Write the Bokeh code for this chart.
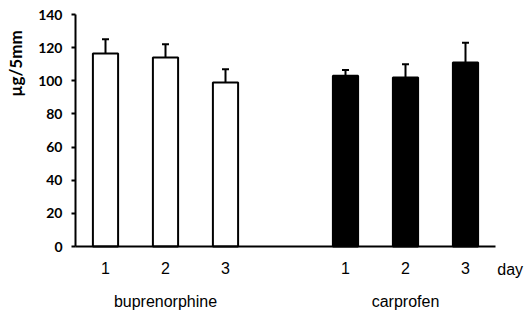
import numpy as np
from bokeh.plotting import figure
from bokeh.models import Range1d, FixedTicker, Whisker, TeeHead, ColumnDataSource, Label
from bokeh.embed import file_html
from bokeh.resources import INLINE

# data
positions = [1, 2, 3, 5, 6, 7]
day_labels = ["1", "2", "3", "1", "2", "3"]
means = [116.5, 114, 99, 103, 102, 111]
errors = [8.5, 8, 8, 3.5, 8, 12]
fills = ["white", "white", "white", "black", "black", "black"]
groups = ["buprenorphine", "carprofen"]
group_centers = [2, 6]
y_ticks = [0, 20, 40, 60, 80, 100, 120, 140]

upper = [m + e for m, e in zip(means, errors)]
src = ColumnDataSource(dict(x=positions, top=means, upper=upper, fill=fills))

W, H = 528, 317
# frame spans the whole canvas; axes are drawn at fixed locations inside it
px_per_x = 60.0
px_per_y = 232.0 / 140.0
x0_px, y0_px = 45.0, 246.0
xr = Range1d((0 - x0_px) / px_per_x, (W - x0_px) / px_per_x)
yr = Range1d((y0_px - H) / px_per_y, (y0_px - 0) / px_per_y)

p = figure(width=W, height=H, output_backend="svg", toolbar_location=None,
           x_range=xr, y_range=yr,
           min_border_left=0, min_border_right=0, min_border_top=0, min_border_bottom=0)
p.outline_line_color = None
p.xgrid.visible = False
p.ygrid.visible = False
p.background_fill_color = "white"
p.border_fill_color = "white"

p.vbar(x="x", top="top", bottom=0, width=0.42, source=src,
       fill_color="fill", line_color="black", line_width=2)

w = Whisker(base="x", lower="top", upper="upper", source=src,
            line_color="black", line_width=2,
            upper_head=TeeHead(size=7, line_color="black", line_width=2),
            lower_head=None)
p.add_layout(w)

# y axis
ya = p.yaxis[0]
ya.fixed_location = 0.5
ya.bounds = (0, 140)
ya.ticker = FixedTicker(ticks=y_ticks)
ya.axis_line_width = 2
ya.axis_line_color = "black"
ya.major_tick_line_width = 2
ya.major_tick_in = 0
ya.major_tick_out = 4
ya.minor_tick_line_color = None
ya.major_label_text_font = "Lato"
ya.major_label_text_font_style = "bold"
ya.major_label_text_font_size = "14px"
ya.major_label_text_color = "black"
ya.major_label_standoff = 9

# x axis
xa = p.xaxis[0]
xa.fixed_location = 0
xa.bounds = (0.5, 7.5)
xa.ticker = FixedTicker(ticks=positions)
xa.major_label_overrides = {pos: lab for pos, lab in zip(positions, day_labels)}
xa.axis_line_width = 2
xa.axis_line_color = "black"
xa.major_tick_line_color = None
xa.major_tick_in = 0
xa.major_tick_out = 0
xa.minor_tick_line_color = None
xa.major_label_text_font = "Liberation Sans"
xa.major_label_text_font_size = "16px"
xa.major_label_text_color = "black"
xa.major_label_standoff = 15

for g, c in zip(groups, group_centers):
    p.add_layout(Label(x=c, y=-33.2, text=g, text_align="center", text_baseline="middle",
                       text_font="Liberation Sans", text_font_size="16px", text_color="black"))

p.add_layout(Label(x=7.53, y=-13.8, text="day", text_align="left", text_baseline="middle",
                   text_font="Liberation Sans", text_font_size="16px", text_color="black"))

p.add_layout(Label(x=-0.5, y=110.4, text="µg/5mm", angle=np.pi / 2, text_align="center",
                   text_baseline="middle", text_font="Lato", text_font_style="bold",
                   text_font_size="17px", text_color="black"))

open("out.html", "w").write(file_html(p, INLINE))
